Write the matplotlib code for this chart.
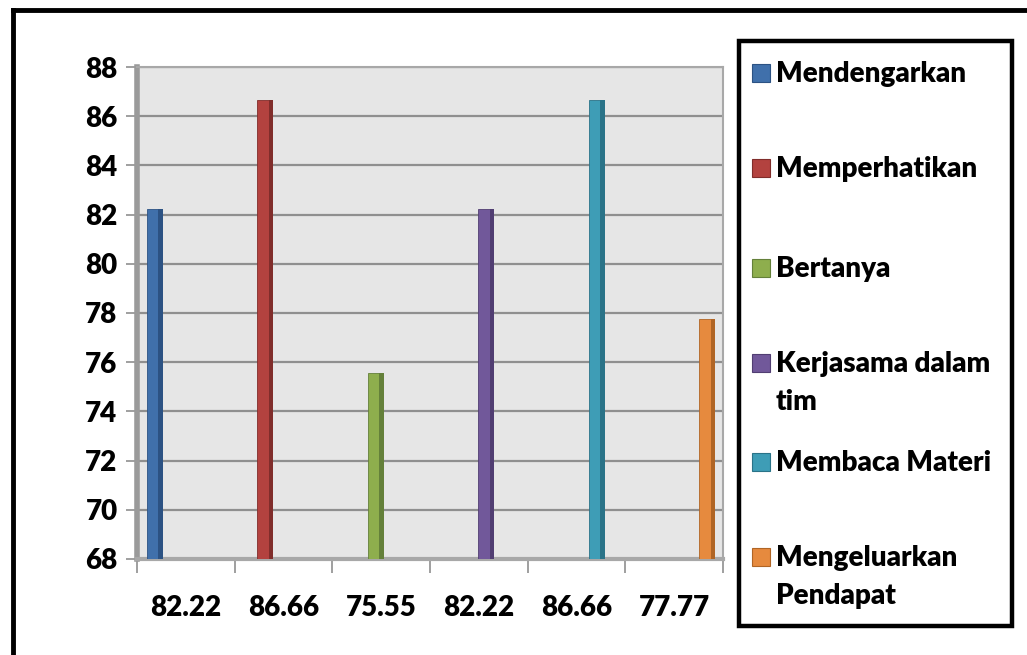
import numpy as np
import matplotlib.pyplot as plt
from matplotlib.patches import Rectangle
from matplotlib.lines import Line2D

plt.rcParams['font.family'] = ['Lato', 'DejaVu Sans']
plt.rcParams['font.weight'] = 'heavy'

# scores per aspect
aspects = ["Mendengarkan", "Memperhatikan", "Bertanya",
           "Kerjasama dalam\ntim", "Membaca Materi", "Mengeluarkan\nPendapat"]
scores = [82.22, 86.66, 75.55, 82.22, 86.66, 77.77]
tick_labels = ["82.22", "86.66", "75.55", "82.22", "86.66", "77.77"]
y_ticks = [68, 70, 72, 74, 76, 78, 80, 82, 84, 86, 88]

face_colors = ["#4070ab", "#b3423f", "#8eae4d", "#71589a", "#3e9db6", "#e68a3e"]
side_colors = ["#2c5283", "#802d2b", "#64803a", "#513e72", "#2a7388", "#b06525"]

FS = 20
FW = "heavy"

fig = plt.figure(figsize=(10.27, 6.55), dpi=100)
ax = fig.add_axes([0.1334, 0.1466, 0.5706, 0.7511])
ax.set_facecolor("#e6e6e6")

base = 68
front_w = 0.12
side_w = 0.045
for i, (val, fc, sc) in enumerate(zip(scores, face_colors, side_colors)):
    left = i + 0.10 + i * 0.131
    ax.bar(left, val - base, width=front_w, bottom=base, align="edge",
           color=fc, edgecolor=sc, linewidth=0.6, zorder=3)
    ax.bar(left + front_w, val - base, width=side_w, bottom=base, align="edge",
           color=sc, linewidth=0, zorder=3)

ax.set_xlim(0, 6)
ax.set_ylim(68, 88)
ax.set_yticks(y_ticks)
ax.set_yticklabels([str(t) for t in y_ticks], fontsize=FS, fontweight=FW)
ax.set_xticks(np.arange(7))
ax.set_xticklabels([])
for i, lab in enumerate(tick_labels):
    ax.text(i + 0.5, -0.1, lab, transform=ax.get_xaxis_transform(),
            ha="center", va="center", fontsize=FS, fontweight=FW)

ax.yaxis.grid(True, color="#8f8f8f", linewidth=1.6, zorder=1)
ax.set_axisbelow(True)
ax.tick_params(axis="y", length=8, width=1.2, color="#8f8f8f", pad=6)
ax.tick_params(axis="x", length=10, width=1.2, color="#8f8f8f")
for side in ["top", "right"]:
    ax.spines[side].set_color("#a8a8a8")
    ax.spines[side].set_linewidth(1.5)
ax.spines["left"].set_color("#9a9a9a")
ax.spines["left"].set_linewidth(4)
ax.spines["bottom"].set_color("#a8a8a8")
ax.spines["bottom"].set_linewidth(3)

# outer chart frame (top and left edges)
fig.add_artist(Line2D([13 / 1027, 1.0], [1 - 10 / 655, 1 - 10 / 655],
                      transform=fig.transFigure, color="black", linewidth=3.5))
fig.add_artist(Line2D([13 / 1027, 13 / 1027], [0.0, 1 - 10 / 655],
                      transform=fig.transFigure, color="black", linewidth=3.5))

# legend box
fig.add_artist(Rectangle((739 / 1027, 1 - 626 / 655), 273 / 1027, 585 / 655,
                         transform=fig.transFigure, fill=False,
                         edgecolor="black", linewidth=3.2))
legend_y = [73, 168, 268, 363, 462, 557]
for name, fc, sc, yp in zip(aspects, face_colors, side_colors, legend_y):
    fig.add_artist(Rectangle((752 / 1027, 1 - (yp + 9) / 655), 18 / 1027, 18 / 655,
                             transform=fig.transFigure, facecolor=fc,
                             edgecolor=sc, linewidth=0.8))
    fig.text(776 / 1027, 1 - (yp - 12) / 655, name, ha="left", va="top",
             fontsize=FS, fontweight=FW, linespacing=1.55)

fig.savefig("out.png", dpi=100)
